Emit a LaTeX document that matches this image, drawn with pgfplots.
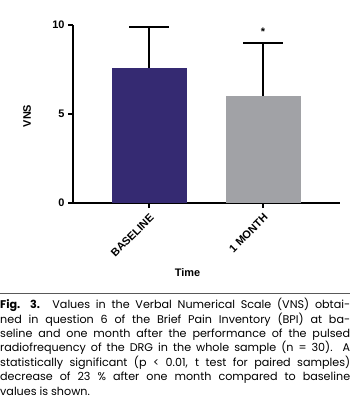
\documentclass[border=0pt]{standalone}
\usepackage{pgfplots}
\pgfplotsset{compat=1.18}
\usepackage{fontspec}
\newfontfamily\arialf{Liberation Sans}
\newfontfamily\capf{Poppins}
\definecolor{barA}{HTML}{352A72}
\definecolor{barB}{HTML}{A1A2A6}
\begin{document}
\begin{tikzpicture}[x=1bp,y=1bp]
\useasboundingbox (0,0) rectangle (350,410);
\begin{axis}[
  at={(73bp,207bp)}, anchor=south west,
  scale only axis, width=267bp, height=178bp,
  xmin=-0.667, xmax=1.675, ymin=0, ymax=10,
  axis x line*=bottom, axis y line*=left,
  axis line style={line width=1.5bp, -},
  ytick={0,5,10}, xtick={0,1}, xticklabels={BASELINE,1 MONTH},
  tick style={black, line width=1.2bp}, tick align=outside, major tick length=5bp,
  xticklabel style={rotate=45, anchor=north east, font=\arialf\bfseries\fontsize{11}{12}\selectfont},
  yticklabel style={font=\arialf\bfseries\fontsize{11}{12}\selectfont},
  /pgf/number format/assume math mode=true,
  clip=false,
  ybar, bar width=75bp,
  error bars/y dir=plus, error bars/y explicit,
  error bars/error mark options={rotate=90, mark size=20bp, line width=1.5bp, black},
  error bars/error bar style={line width=1.5bp, black},
]
\addplot[fill=barA, draw=none, bar shift=0pt] coordinates {(0,7.6) +- (0,2.3)};
\addplot[fill=barB, draw=none, bar shift=0pt] coordinates {(1,6.0) +- (0,3.0)};
\node[font=\arialf\bfseries\fontsize{11}{12}\selectfont] at (axis cs:1,9.6) {*};
\end{axis}
\node[rotate=90, font=\arialf\bfseries\fontsize{11}{12}\selectfont] at (27,294) {VNS};
\node[font=\arialf\bfseries\fontsize{11}{12}\selectfont] at (187.5,137) {Time};
\draw[gray!70!black, line width=1bp] (0,116.5) -- (350,116.5);
\node[anchor=north west, inner sep=0pt, text width=350bp, align=justify,
      font=\capf\fontsize{11.2}{14.5}\selectfont] at (0,112) {%
{\bfseries Fig. 3.} Values in the Verbal Numerical Scale (VNS) obtai-\linebreak
ned in question 6 of the Brief Pain Inventory (BPI) at ba-\linebreak
seline and one month after the performance of the pulsed\linebreak
radiofrequency of the DRG in the whole sample (n = 30). A\linebreak
statistically significant (p < 0.01, t test for paired samples)\linebreak
decrease of 23 \% after one month compared to baseline\linebreak
values is shown.};
\end{tikzpicture}
\end{document}
